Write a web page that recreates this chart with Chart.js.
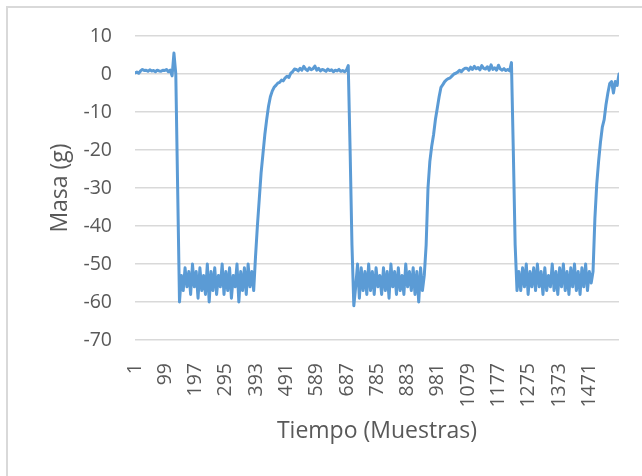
<!DOCTYPE html>
<html>
<head>
<meta charset="utf-8">
<script src="https://cdn.jsdelivr.net/npm/chart.js@4/dist/chart.umd.min.js"></script>
<style>
  html, body { margin: 0; padding: 0; background: #fff; overflow: hidden; }
  #wrap { position: relative; width: 642px; height: 476px; }
  #marco { position: absolute; left: 6px; top: 6px; width: 700px; height: 560px;
           border: 2px solid #d9d9d9; box-sizing: border-box; }
  canvas { position: absolute; left: 0; top: 0; }
</style>
</head>
<body>
<div id="wrap">
  <div id="marco"></div>
  <canvas id="masaChart" width="642" height="476"></canvas>
</div>
<script>
// one reading every 6 samples
var pasoMuestras = 6;

var masa = [
  // reposo inicial
  0.3, 0.5, 0.2, 0.8, 1.2, 0.9, 1.0, 0.7, 1.1, 0.8, 0.9, 0.6, 1.0, 0.8, 0.7, 1.0, 0.9, 1.2, 0.6, 1.0, -0.5,
  5.5, 0, -30, -60,
  // carga 1
  -53, -57, -51, -56, -52, -58, -50, -56, -52, -59, -51, -57, -53, -58, -50, -60, -52, -57, -51, -58,
  -53, -56, -50, -58, -52, -57, -51, -59, -53, -56, -50, -60, -52, -57, -51, -58, -50, -56, -52, -57,
  -48, -40, -33, -26, -21, -16, -12, -8.5, -6, -4.5, -3.5, -3, -2.4, -2.2, -1.6, -1.8, -1.0, -0.6, -0.9, 0.2, 0.6, 1.3,
  // reposo 2
  1.2, 0.8, 1.5, 1.0, 2.0, 1.3, 0.9, 1.6, 1.1, 1.4, 2.1, 1.0, 1.5, 0.8, 1.2, 1.0, 0.7, 1.3, 0.9, 1.1,
  0.6, 1.0, 0.8, 1.2, 0.7, 0.9, 0.6, 1.0,
  2.2, -20, -45, -61,
  // carga 2
  -56, -50, -59, -51, -57, -52, -58, -50, -57, -52, -58, -51, -56, -53, -58, -51, -57, -52, -59, -50,
  -56, -52, -58, -51, -57, -53, -58, -50, -56, -52, -57, -51, -58, -52, -60, -51, -57, -53,
  -45, -30, -23, -19, -16, -12, -9, -6, -3.5, -2.8, -2, -1.5, -1.2, -1, -0.5, 0, 0.2, 0.5, 1, 0.6, 1.2, 1.5,
  // reposo 3
  1.5, 1.0, 1.8, 1.2, 2.0, 1.4, 1.7, 1.1, 2.2, 1.5, 1.3, 1.9, 1.0, 2.4, 1.2, 1.6, 1.0, 2.3, 1.3, 1.0,
  1.4, 0.9, 1.2, 0.8,
  3, -20, -45, -57,
  // carga 3
  -52, -57, -51, -56, -50, -58, -52, -56, -51, -57, -50, -56, -52, -58, -51, -57, -53, -56, -50, -57,
  -52, -58, -51, -56, -50, -57, -52, -58, -51, -56, -50, -57, -52, -58, -51, -56, -50, -57, -52, -55,
  -52, -38, -29, -23, -18, -14, -12, -8, -5, -2.5, -2, -5, -2, -3, 0
];

var etiquetasX = [1, 99, 197, 295, 393, 491, 589, 687, 785, 883, 981, 1079, 1177, 1275, 1373, 1471];
var ticksY = [-70, -60, -50, -40, -30, -20, -10, 0, 10];

var puntos = masa.map(function (v, i) {
  return { x: 1 + i * pasoMuestras, y: v };
});

var gris = '#595959';
var fuente = '"Open Sans", sans-serif';

new Chart(document.getElementById('masaChart').getContext('2d'), {
  type: 'line',
  data: {
    datasets: [{
      data: puntos,
      borderColor: '#5b9bd5',
      borderWidth: 3,
      borderJoinStyle: 'round',
      borderCapStyle: 'round',
      pointRadius: 0,
      tension: 0,
      fill: false
    }]
  },
  options: {
    responsive: false,
    animation: false,
    devicePixelRatio: 1,
    layout: { padding: { left: 0, right: 23, top: 36, bottom: 0 } },
    plugins: { legend: { display: false }, tooltip: { enabled: false } },
    scales: {
      x: {
        type: 'linear',
        min: 1,
        max: 1 + (masa.length - 1) * pasoMuestras,
        afterBuildTicks: function (s) { s.ticks = etiquetasX.map(function (v) { return { value: v }; }); },
        afterFit: function (s) { s.height = 136; },
        grid: { display: false },
        border: { display: false },
        ticks: {
          autoSkip: false, maxRotation: 90, minRotation: 90, padding: 15,
          color: gris, font: { family: fuente, size: 19.5 },
          callback: function (v) { return String(v); }
        },
        title: {
          display: true, text: 'Tiempo (Muestras)', color: gris,
          font: { family: fuente, size: 23 }, padding: { top: 0, bottom: 31 }
        }
      },
      y: {
        min: -70,
        max: 10,
        afterBuildTicks: function (s) { s.ticks = ticksY.map(function (v) { return { value: v }; }); },
        afterFit: function (s) { s.width = 135; },
        grid: { color: '#d9d9d9', lineWidth: 1.5, drawTicks: false },
        border: { display: false },
        ticks: { padding: 23, color: gris, font: { family: fuente, size: 19.5 } },
        title: {
          display: true, text: 'Masa (g)', color: gris,
          font: { family: fuente, size: 23 }, padding: { top: 47, bottom: 0 }
        }
      }
    }
  }
});
</script>
</body>
</html>
